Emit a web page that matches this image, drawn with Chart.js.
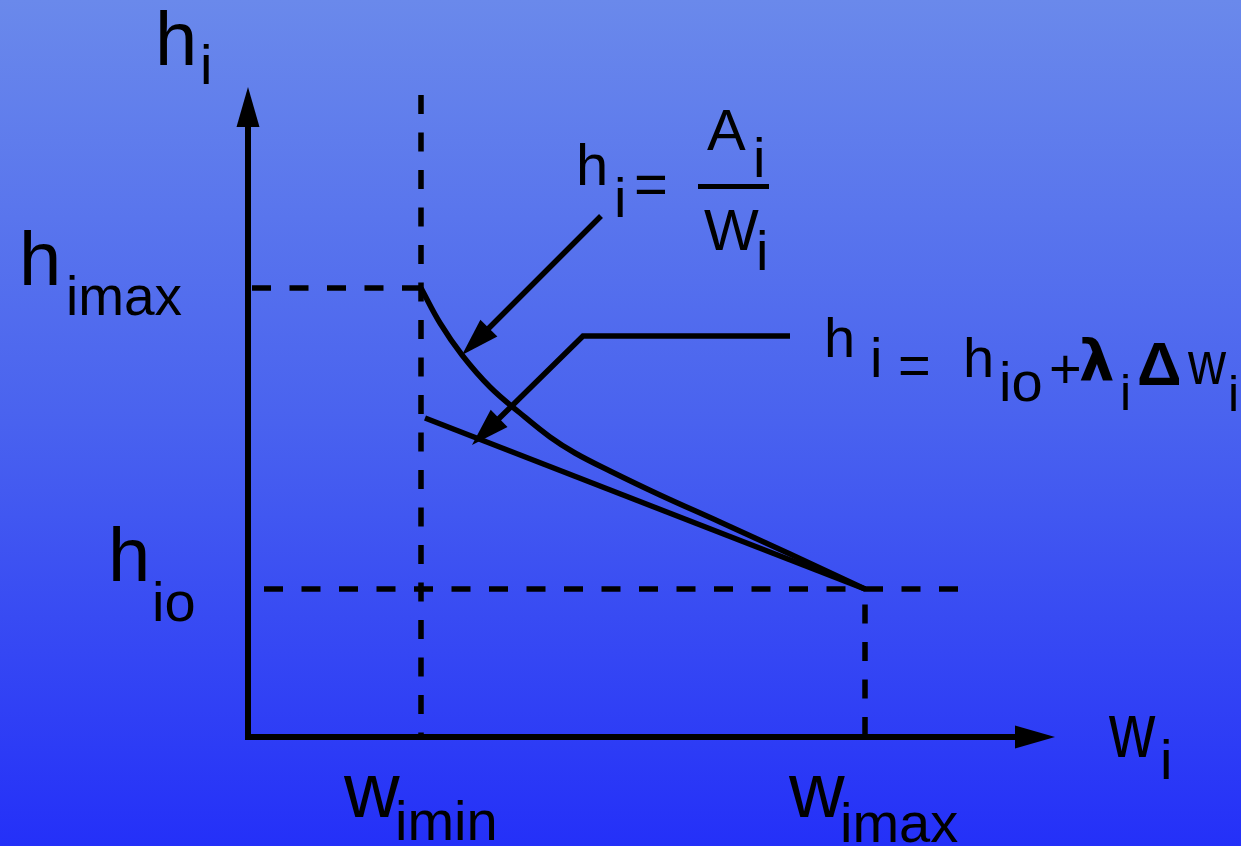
<!DOCTYPE html>
<html><head><meta charset="utf-8">
<script src="https://cdn.jsdelivr.net/npm/chart.js@4.4.1/dist/chart.umd.min.js"></script>
<style>html,body{margin:0;padding:0;overflow:hidden;background:#4a62ee}#wrap{width:1241px;height:846px}</style>
</head><body><div id="wrap"><canvas id="c" width="1241" height="846"></canvas></div>
<script>
// ---- diagram values (w along x, h along y; origin = corner of the axes) ----
const wMin = 1.73, wMax = 6.17;
const hMax = 4.49, hIo = 1.48;
const wAxisEnd = 8.07, hAxisEnd = 6.50;
const wDashEnd = 7.10, hDashTop = 6.42;

// h = A / w curve
const curveW = [1.73, 1.92, 2.14, 2.42, 2.72, 3.02, 3.27, 3.62, 4.12, 4.72, 5.42, 6.17];
const curveH = [4.49, 4.14, 3.82, 3.50, 3.24, 3.00, 2.84, 2.66, 2.42, 2.15, 1.83, 1.48];

// linear approximation h = hio + lambda * dw
const lineW = [1.77, 6.17];
const lineH = [3.19, 1.48];

// pointer arrows from the formulas
const arrow1W = [3.53, 2.14];
const arrow1H = [5.21, 3.82];
const arrow2W = [5.42, 3.35, 2.24];
const arrow2H = [4.01, 4.01, 2.92];

const pts = (xs, ys) => xs.map((x, i) => ({x, y: ys[i]}));

const bgPlugin = {
  id: 'bg',
  beforeDraw(chart) {
    const {ctx, width, height} = chart;
    const g = ctx.createLinearGradient(0, 0, 0, height);
    g.addColorStop(0, '#6a89eb');
    g.addColorStop(0.5, '#4962ef');
    g.addColorStop(1, '#2430f8');
    ctx.save(); ctx.fillStyle = g; ctx.fillRect(0, 0, width, height); ctx.restore();
  }
};

const arrowPlugin = {
  id: 'arrows',
  afterDatasetsDraw(chart) {
    const ctx = chart.ctx;
    chart.data.datasets.forEach((ds, i) => {
      if (!ds.arrow) return;
      const p = chart.getDatasetMeta(i).data.map(e => ({x: e.x, y: e.y}));
      const a = ds.arrow;
      const heads = [];
      const shorten = (tip, prev) => {
        const dx = tip.x - prev.x, dy = tip.y - prev.y, L = Math.hypot(dx, dy);
        const ux = dx / L, uy = dy / L;
        heads.push({tip: {...tip}, ux, uy});
        tip.x -= ux * a.len * 0.8; tip.y -= uy * a.len * 0.8;
      };
      if (a.end) shorten(p[p.length - 1], p[p.length - 2]);
      if (a.start) shorten(p[0], p[1]);
      ctx.save();
      ctx.strokeStyle = '#000'; ctx.fillStyle = '#000';
      ctx.lineWidth = a.width; ctx.lineJoin = 'miter'; ctx.lineCap = 'butt';
      ctx.beginPath(); ctx.moveTo(p[0].x, p[0].y);
      for (let k = 1; k < p.length; k++) ctx.lineTo(p[k].x, p[k].y);
      ctx.stroke();
      heads.forEach(h => {
        const bx = h.tip.x - h.ux * a.len, by = h.tip.y - h.uy * a.len;
        const nx = -h.uy, ny = h.ux;
        ctx.beginPath();
        ctx.moveTo(h.tip.x, h.tip.y);
        ctx.lineTo(bx + nx * a.half, by + ny * a.half);
        ctx.lineTo(bx - nx * a.half, by - ny * a.half);
        ctx.closePath(); ctx.fill();
      });
      ctx.restore();
    });
  }
};

const F = '"Liberation Sans", Arial, sans-serif';
const labels = [
  {t: 'h', x: 155, y: 65, s: 76}, {t: 'i', x: 200, y: 84, s: 56},
  {t: 'h', x: 19, y: 285, s: 76}, {t: 'imax', x: 66, y: 315, s: 55},
  {t: 'h', x: 108, y: 581, s: 76}, {t: 'io', x: 152, y: 621, s: 56},
  {t: 'w', x: 344, y: 817, s: 77}, {t: 'imin', x: 395, y: 840, s: 56},
  {t: 'w', x: 789, y: 817, s: 77}, {t: 'imax', x: 840, y: 842, s: 56},
  {t: 'w', x: 1109, y: 757, s: 78, sx: 0.82}, {t: 'i', x: 1160, y: 779, s: 56},
  // h_i = A_i / W_i
  {t: 'h', x: 576, y: 185, s: 58}, {t: 'i', x: 614, y: 217, s: 56},
  {t: '=', x: 634, y: 204, s: 58},
  {t: 'A', x: 707, y: 150, s: 58}, {t: 'i', x: 753, y: 177, s: 56},
  {t: 'W', x: 704, y: 250, s: 58}, {t: 'i', x: 756, y: 270, s: 56},
  // h_i = h_io + λ_i Δ w_i
  {t: 'h', x: 824, y: 357, s: 56}, {t: 'i', x: 870, y: 377, s: 56},
  {t: '=', x: 898, y: 384, s: 56},
  {t: 'h', x: 963, y: 377, s: 56}, {t: 'io', x: 999, y: 401, s: 56},
  {t: '+', x: 1049, y: 388, s: 56},
  {t: 'λ', x: 1079, y: 380, s: 56, b: true, f: '"DejaVu Sans"'},
  {t: 'i', x: 1120, y: 410, s: 50},
  {t: 'Δ', x: 1137, y: 385, s: 62, b: true},
  {t: 'w', x: 1188, y: 384, s: 62, sx: 0.85},
  {t: 'i', x: 1228, y: 411, s: 50}
];

const textPlugin = {
  id: 'texts',
  afterDraw(chart) {
    const ctx = chart.ctx;
    ctx.save();
    ctx.fillStyle = '#000';
    ctx.textBaseline = 'alphabetic';
    labels.forEach(l => {
      ctx.font = (l.b ? 'bold ' : '') + l.s + 'px ' + (l.f || F);
      ctx.save();
      ctx.translate(l.x, l.y);
      if (l.sx) ctx.scale(l.sx, 1);
      ctx.fillText(l.t, 0, 0);
      ctx.restore();
    });
    ctx.fillRect(698, 184, 71, 5); // fraction bar
    ctx.restore();
  }
};

const base = {showLine: true, pointRadius: 0, borderColor: '#000', fill: false, borderCapStyle: 'butt'};
const dash = [19, 18.5];

new Chart(document.getElementById('c'), {
  type: 'scatter',
  data: {
    datasets: [
      {...base, data: [{x: wMin, y: hDashTop}, {x: wMin, y: 0}], borderWidth: 5.5, borderDash: dash},
      {...base, data: [{x: wMin, y: hMax}, {x: 0.02, y: hMax}], borderWidth: 5.5, borderDash: dash},
      {...base, data: [{x: wDashEnd, y: hIo}, {x: 0.02, y: hIo}], borderWidth: 5.5, borderDash: dash},
      {...base, data: [{x: wMax, y: 0.01}, {x: wMax, y: hIo}], borderWidth: 5.5, borderDash: dash},
      {...base, data: pts(curveW, curveH), borderWidth: 5.5, tension: 0.4},
      {...base, data: pts(lineW, lineH), borderWidth: 5.5},
      {...base, showLine: false, data: pts(arrow1W, arrow1H), arrow: {end: true, len: 38, half: 12, width: 5.5}},
      {...base, showLine: false, data: pts(arrow2W, arrow2H), arrow: {end: true, len: 38, half: 12, width: 5.5}},
      {...base, showLine: false, data: [{x: 0, y: hAxisEnd}, {x: 0, y: 0}, {x: wAxisEnd, y: 0}], arrow: {start: true, end: true, len: 40, half: 11.5, width: 6}}
    ]
  },
  options: {
    responsive: false, devicePixelRatio: 1, animation: false,
    layout: {padding: 0},
    plugins: {legend: {display: false}, tooltip: {enabled: false}},
    scales: {
      x: {type: 'linear', min: -2.48, max: 9.93, display: false},
      y: {type: 'linear', min: -1.09, max: 7.37, display: false}
    }
  },
  plugins: [bgPlugin, arrowPlugin, textPlugin]
});
</script>
</body></html>
